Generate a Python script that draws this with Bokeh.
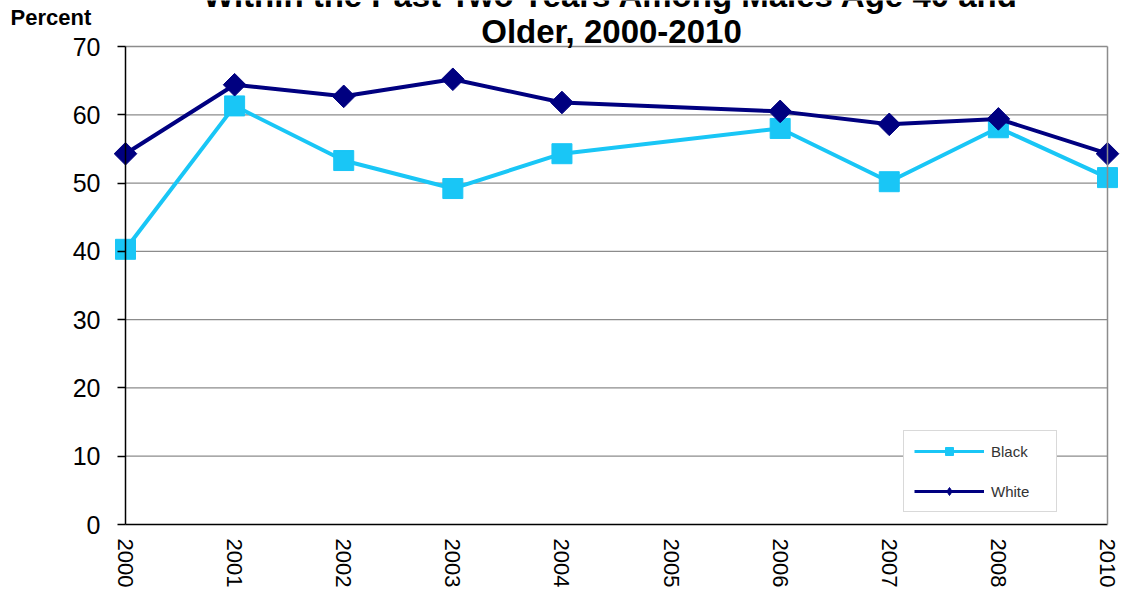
import math
from bokeh.plotting import figure
from bokeh.models import (Range1d, LinearAxis, Label, Legend, LegendItem,
                          FixedTicker, ColumnDataSource)
from bokeh.embed import file_html
from bokeh.resources import INLINE

# ---- data ----
years = ["2000", "2001", "2002", "2003", "2004", "2005", "2006", "2007", "2008", "2010"]
black_years = ["2000", "2001", "2002", "2003", "2004", "2006", "2007", "2008", "2010"]
black_vals = [40.3, 61.3, 53.3, 49.2, 54.3, 58.0, 50.2, 58.1, 50.8]
white_years = ["2000", "2001", "2002", "2003", "2004", "2006", "2007", "2008", "2010"]
white_vals = [54.3, 64.4, 62.7, 65.2, 61.8, 60.5, 58.6, 59.4, 54.3]
y_ticks = [0, 10, 20, 30, 40, 50, 60, 70]
title_line1 = "Within the Past Two Years Among Males Age 40 and"
title_line2 = "Older, 2000-2010"
y_title = "Percent"

CYAN = "#19C6F6"
NAVY = "#000080"
FONT = "Liberation Sans"

W, H = 1126, 590
# pixel geometry of the plotting area inside the canvas
AX_LEFT, AX_RIGHT, AX_TOP, AX_BOTTOM = 125.0, 1107.0, 46.0, 524.0

n = len(years)
bx = [years.index(y) for y in black_years]
wx = [years.index(y) for y in white_years]

xs = (AX_RIGHT - AX_LEFT) / (n - 1)
ys = (AX_BOTTOM - AX_TOP) / (y_ticks[-1] - y_ticks[0])
x_range = Range1d(-AX_LEFT / xs, (n - 1) + (W - AX_RIGHT) / xs)
y_range = Range1d(y_ticks[0] - (H - AX_BOTTOM) / ys, y_ticks[-1] + AX_TOP / ys)

p = figure(width=W, height=H, x_range=x_range, y_range=y_range,
           x_axis_type=None, y_axis_type=None,
           output_backend="svg", toolbar_location=None, min_border=0)
p.outline_line_color = None
p.background_fill_color = "white"
p.border_fill_color = "white"
p.grid.visible = False

# gridlines, from the y axis to the right border (top one is the border)
grid_y = y_ticks[1:]
p.segment(x0=[0] * len(grid_y), x1=[n - 1] * len(grid_y), y0=grid_y, y1=grid_y,
          line_color="#8c8c8c", line_width=1.3)

# right border
rb = LinearAxis(fixed_location=n - 1, bounds=(y_ticks[0], y_ticks[-1]),
                ticker=FixedTicker(ticks=[]), axis_line_color="#8c8c8c",
                axis_line_width=1.5, major_tick_line_color=None,
                minor_tick_line_color=None, major_label_text_font_size="0px")
p.add_layout(rb, "right")

# y axis
ya = LinearAxis(fixed_location=0, bounds=(y_ticks[0], y_ticks[-1]),
                ticker=FixedTicker(ticks=y_ticks))
ya.axis_line_color = "black"
ya.axis_line_width = 1.5
ya.major_tick_line_color = "black"
ya.major_tick_line_width = 1.5
ya.major_tick_out = 8
ya.major_tick_in = 0
ya.minor_tick_line_color = None
ya.major_label_text_font = FONT
ya.major_label_text_font_size = "25px"
ya.major_label_text_color = "black"
ya.major_label_standoff = 17
p.add_layout(ya, "left")

# x axis
xa = LinearAxis(fixed_location=y_ticks[0], bounds=(0, n - 1),
                ticker=FixedTicker(ticks=list(range(n))))
xa.major_label_overrides = {i: y for i, y in enumerate(years)}
xa.major_label_orientation = -math.pi / 2
xa.axis_line_color = "black"
xa.axis_line_width = 1.5
xa.major_tick_line_color = None
xa.minor_tick_line_color = None
xa.major_label_text_font = FONT
xa.major_label_text_font_size = "22px"
xa.major_label_text_color = "black"
xa.major_label_standoff = 8
p.add_layout(xa, "below")

# series
bsrc = ColumnDataSource(dict(x=bx, y=black_vals))
wsrc = ColumnDataSource(dict(x=wx, y=white_vals))
p.line("x", "y", source=bsrc, line_color=CYAN, line_width=4)
p.scatter("x", "y", source=bsrc, marker="square", size=20, fill_color=CYAN, line_color=CYAN)
p.line("x", "y", source=wsrc, line_color=NAVY, line_width=4)
p.scatter("x", "y", source=wsrc, marker="square", angle=math.pi / 4, size=16,
          fill_color=NAVY, line_color=NAVY)

# legend-only glyphs (nothing drawn in the plot)
nan = float("nan")
def dummy():
    return ColumnDataSource(dict(x=[nan], y=[nan]))
lb_line = p.line("x", "y", source=dummy(), line_color=CYAN, line_width=3)
lb_mk = p.scatter("x", "y", source=dummy(), marker="square", size=9,
                  fill_color=CYAN, line_color=CYAN)
lw_line = p.line("x", "y", source=dummy(), line_color=NAVY, line_width=3)
lw_mk = p.scatter("x", "y", source=dummy(), marker="diamond", size=11,
                  fill_color=NAVY, line_color=NAVY)
legend = Legend(items=[LegendItem(label="Black", renderers=[lb_line, lb_mk]),
                       LegendItem(label="White", renderers=[lw_line, lw_mk])],
                location=(903, H - 512), orientation="vertical",
                padding=10, spacing=20, glyph_width=70, glyph_height=20,
                label_standoff=7, label_width=55, margin=0,
                label_text_font=FONT, label_text_font_size="15px",
                label_text_color="#333333",
                border_line_color="#b4b4b4", border_line_width=1,
                background_fill_color="white", background_fill_alpha=1)
p.add_layout(legend)

# title and axis title as text
mid = (n - 1) / 2
p.add_layout(Label(x=mid, y=y_ticks[-1], x_offset=-5, y_offset=51, text=title_line1,
                   text_align="center", text_baseline="alphabetic",
                   text_font=FONT, text_font_size="33px", text_font_style="bold",
                   text_color="black"))
p.add_layout(Label(x=mid, y=y_ticks[-1], x_offset=-5, y_offset=15, text=title_line2,
                   text_align="center", text_baseline="alphabetic",
                   text_font=FONT, text_font_size="33px", text_font_style="bold",
                   text_color="black"))
p.add_layout(Label(x=0, y=y_ticks[-1], x_offset=-115, y_offset=29, text=y_title,
                   text_align="left", text_baseline="alphabetic",
                   text_font=FONT, text_font_size="22px", text_font_style="bold",
                   text_color="black"))

open("out.html", "w").write(file_html(p, INLINE))
